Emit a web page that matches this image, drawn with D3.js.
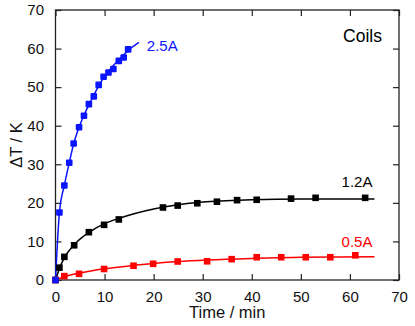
<!DOCTYPE html>
<html>
<head>
<meta charset="utf-8">
<script src="https://cdn.jsdelivr.net/npm/d3@7"></script>
<style>
  body { margin: 0; background: #fff; }
  svg { display: block; font-family: "Liberation Sans", Arial, Helvetica, sans-serif; }
</style>
</head>
<body>
<div id="chart"></div>
<script>
// Data (time in min, temperature rise in K)

var xTicks = [0, 10, 20, 30, 40, 50, 60, 70],
    yTicks = [0, 10, 20, 30, 40, 50, 60, 70];

var time25 = [0, 0.8, 1.8, 2.8, 3.7, 4.8, 5.8, 6.8, 7.8, 8.8, 9.8, 10.8, 11.8, 12.9, 13.9, 14.8],
    temp25 = [0, 17.5, 24.5, 30.4, 35.4, 39.6, 42.6, 45.6, 47.6, 50.6, 52.7, 53.8, 54.7, 56.8, 57.7, 59.8];

var time12 = [0, 0.8, 1.8, 3.8, 6.8, 9.9, 12.9, 21.9, 24.9, 28.9, 32.9, 37, 41, 48, 53, 63.1],
    temp12 = [0, 3.2, 6.0, 9.0, 12.4, 14.3, 15.7, 18.8, 19.3, 19.9, 20.3, 20.7, 20.8, 21.1, 21.3, 21.3];

var time05 = [0, 1.8, 4.8, 9.9, 15.9, 19.9, 24.9, 30.9, 35.9, 41, 46, 51, 56, 61.1],
    temp05 = [0, 1.0, 1.6, 2.85, 3.7, 4.2, 4.8, 4.85, 5.4, 5.9, 5.9, 5.9, 5.9, 6.4];

// fitted curves
var fitTime25 = [0, 0.8, 1.8, 2.8, 3.7, 4.8, 5.8, 6.8, 7.8, 8.8, 9.8, 10.8, 11.8, 12.9, 13.9, 14.8, 17],
    fitTemp25 = [0, 17.5, 24.5, 30.4, 35.3, 39.6, 42.7, 45.4, 47.9, 50.3, 52.4, 54.1, 55.6, 57.1, 58.4, 59.5, 61.6];

var fitTime12 = [0, 1, 2, 4, 7, 10, 13, 20, 25, 30, 40, 50, 65],
    fitTemp12 = [0, 3.6, 6.2, 9.4, 12.5, 14.6, 16.0, 18.4, 19.5, 20.2, 20.8, 21.0, 21.0];

var fitTime05 = [0, 2, 5, 10, 16, 20, 25, 31, 40, 50, 65],
    fitTemp05 = [0, 0.9, 1.8, 2.9, 3.8, 4.3, 4.8, 5.2, 5.6, 5.9, 6.0];

var seriesNames = ["2.5A", "1.2A", "0.5A"],
    seriesColors = ["#0a14ff", "#000000", "#ff0000"];

var width = 415,
    height = 326;

var x = d3.scaleLinear().domain([0, 70]).range([55.5, 399]);
var y = d3.scaleLinear().domain([0, 70]).range([280, 10]);

var svg = d3.select("#chart").append("svg")
    .attr("width", width)
    .attr("height", height);

var zip = function(ts, vs) {
    return ts.map(function(t, i) { return {t: t, v: vs[i]}; });
};

var series = [
    {name: seriesNames[0], color: seriesColors[0], pts: zip(time25, temp25), fit: zip(fitTime25, fitTemp25), lx: 17.6, ly: 59.5},
    {name: seriesNames[1], color: seriesColors[1], pts: zip(time12, temp12), fit: zip(fitTime12, fitTemp12), lx: 65, ly: 24.0},
    {name: seriesNames[2], color: seriesColors[2], pts: zip(time05, temp05), fit: zip(fitTime05, fitTemp05), lx: 65, ly: 8.5}
];

var line = d3.line()
    .x(function(d) { return x(d.t); })
    .y(function(d) { return y(d.v); })
    .curve(d3.curveMonotoneX);

// Axes (ticks pointing inward on all four sides)

var axisStyle = function(g) {
    g.selectAll(".domain").remove();
    g.selectAll(".tick line").attr("stroke", "#222").attr("stroke-width", 1.2);
    g.selectAll(".tick text").attr("font-size", "15px").attr("fill", "#111")
        .attr("font-family", "Liberation Sans, Arial, Helvetica, sans-serif");
};

svg.append("g")
    .attr("transform", "translate(0,280)")
    .call(d3.axisBottom(x).tickValues(xTicks).tickSizeInner(-6).tickSizeOuter(0).tickPadding(11))
    .call(axisStyle);

svg.append("g")
    .attr("transform", "translate(0,10)")
    .call(d3.axisTop(x).tickValues(xTicks).tickSizeInner(-6).tickSizeOuter(0).tickFormat(""))
    .call(axisStyle);

svg.append("g")
    .attr("transform", "translate(55.5,0)")
    .call(d3.axisLeft(y).tickValues(yTicks).tickSizeInner(-6).tickSizeOuter(0).tickPadding(11.5))
    .call(axisStyle);

svg.append("g")
    .attr("transform", "translate(399,0)")
    .call(d3.axisRight(y).tickValues(yTicks).tickSizeInner(-6).tickSizeOuter(0).tickFormat(""))
    .call(axisStyle);

svg.append("rect")
    .attr("x", x(0))
    .attr("y", y(70))
    .attr("width", x(70) - x(0))
    .attr("height", y(0) - y(70))
    .attr("fill", "none")
    .attr("stroke", "#222")
    .attr("stroke-width", 1.3);

// Series: fit lines, then markers (blue drawn last so it sits on top at origin)

var order = [1, 2, 0];
order.forEach(function(i) {
    var s = series[i];
    svg.append("path")
        .datum(s.fit)
        .attr("d", line)
        .attr("fill", "none")
        .attr("stroke", s.color)
        .attr("stroke-width", 1.5);
});

order.forEach(function(i) {
    var s = series[i];
    svg.selectAll(".pt" + i)
        .data(s.pts)
        .enter().append("rect")
        .attr("class", "pt" + i)
        .attr("x", function(d) { return x(d.t) - 3.3; })
        .attr("y", function(d) { return y(d.v) - 3.3; })
        .attr("width", 6.6)
        .attr("height", 6.6)
        .attr("rx", i === 0 ? 1 : 0)
        .attr("fill", s.color);
});

// Labels

series.forEach(function(s, i) {
    svg.append("text")
        .attr("x", i === 0 ? x(s.lx) + 5 : x(s.lx) - 2)
        .attr("y", y(s.ly))
        .attr("text-anchor", i === 0 ? "start" : "end")
        .attr("font-size", "15px")
        .attr("fill", s.color)
        .text(s.name);
});

svg.append("text")
    .attr("x", 382)
    .attr("y", 42)
    .attr("text-anchor", "end")
    .attr("font-size", "17.5px")
    .attr("fill", "#000")
    .text("Coils");

svg.append("text")
    .attr("x", (x(0) + x(70)) / 2)
    .attr("y", 318)
    .attr("text-anchor", "middle")
    .attr("font-size", "16.5px")
    .attr("fill", "#111")
    .text("Time / min");

svg.append("text")
    .attr("transform", "translate(21.5," + y(35) + ") rotate(-90)")
    .attr("text-anchor", "middle")
    .attr("font-size", "16.5px")
    .attr("fill", "#111")
    .text("ΔT / K");
</script>
</body>
</html>
